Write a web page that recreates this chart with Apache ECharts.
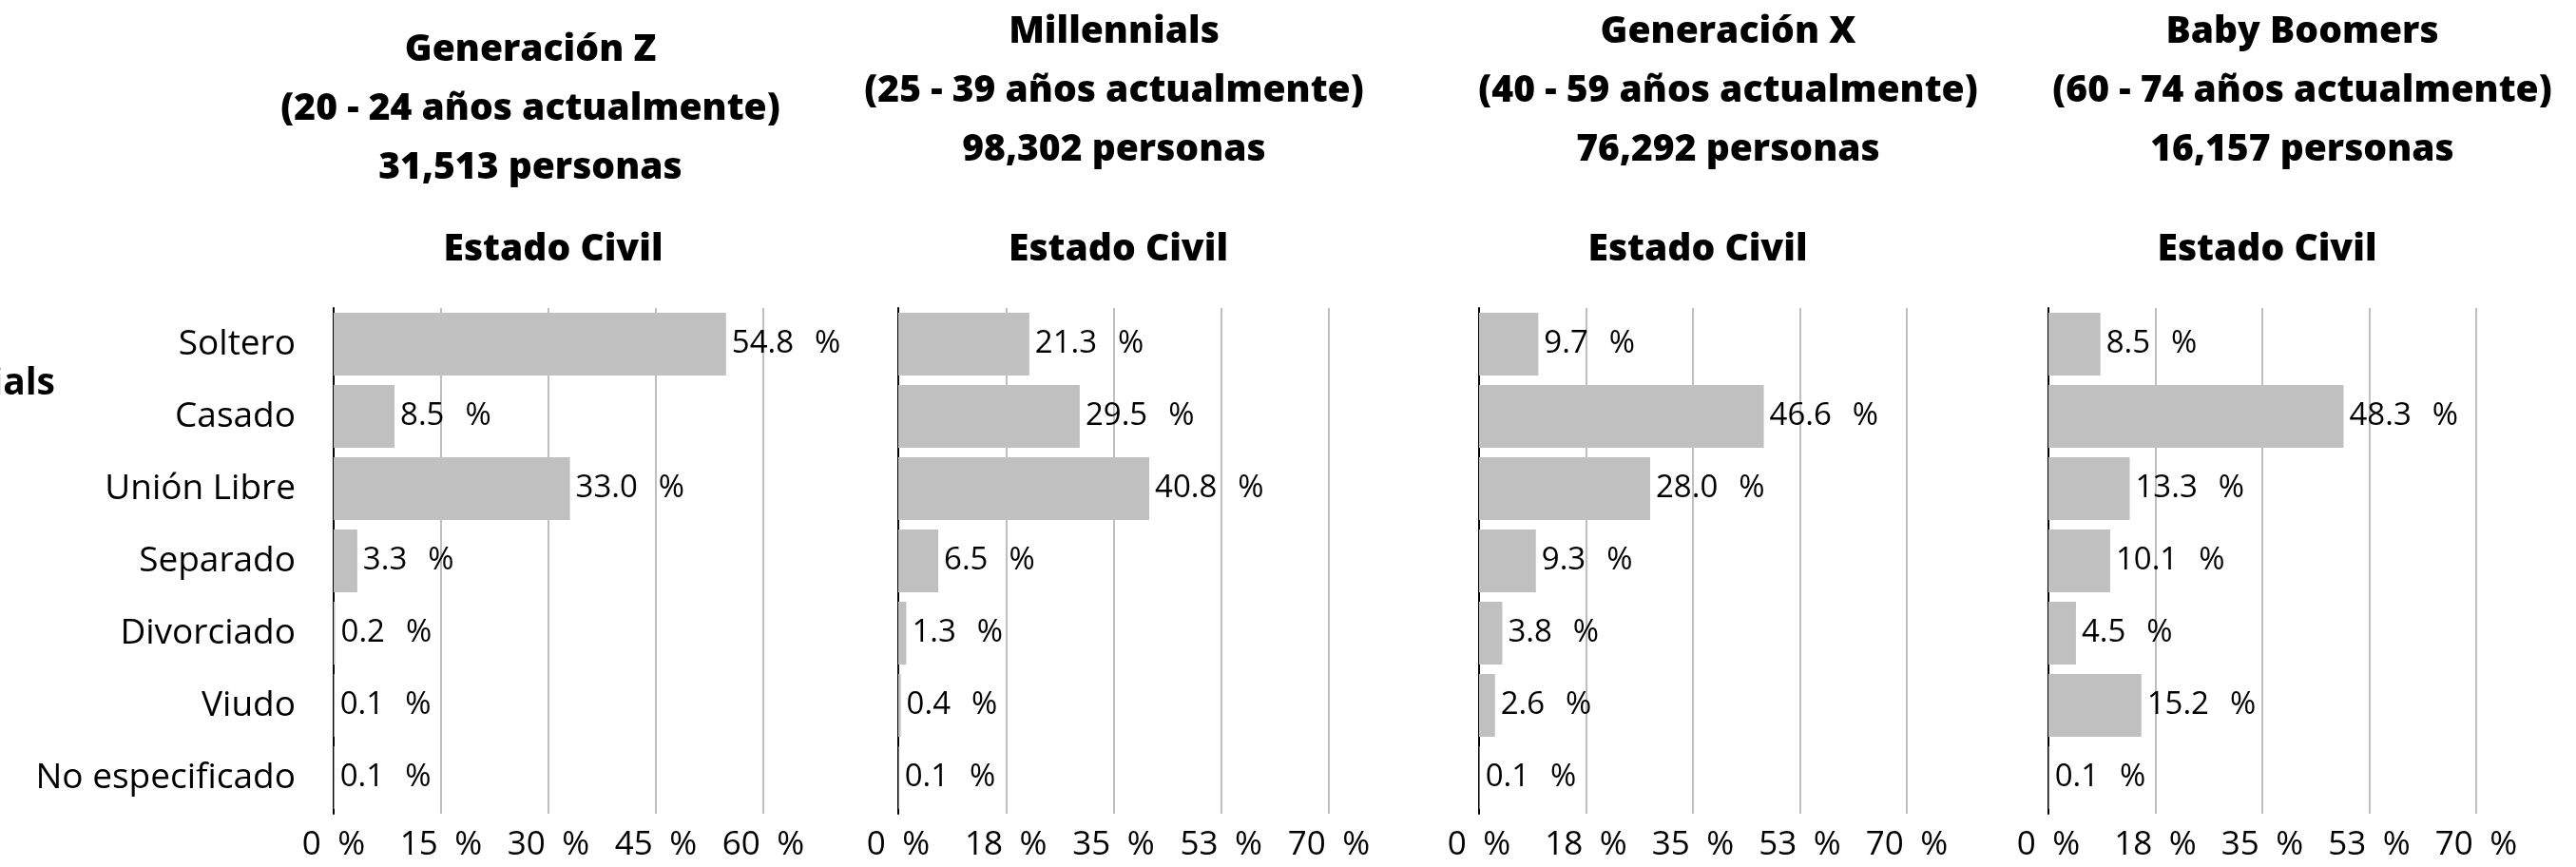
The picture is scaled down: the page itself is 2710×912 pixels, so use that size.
<!DOCTYPE html>
<html>
<head>
<meta charset="utf-8">
<script src="https://cdn.jsdelivr.net/npm/echarts@6/dist/echarts.min.js"></script>
<style>
  html, body { margin: 0; padding: 0; background: #fff; }
  #chart { width: 2710px; height: 912px; }
</style>
</head>
<body>
<div id="chart"></div>
<script>
// categorias de estado civil
const categories = ['Soltero', 'Casado', 'Unión Libre', 'Separado', 'Divorciado', 'Viudo', 'No especificado']

// porcentajes por generacion
const genZ = [54.8, 8.5, 33.0, 3.3, 0.2, 0.1, 0.1]
const millennials = [21.3, 29.5, 40.8, 6.5, 1.3, 0.4, 0.1]
const genX = [9.7, 46.6, 28.0, 9.3, 3.8, 2.6, 0.1]
const boomers = [8.5, 48.3, 13.3, 10.1, 4.5, 15.2, 0.1]

const titles = [
  'Generación Z\n(20 - 24 años actualmente)\n31,513 personas',
  'Millennials\n(25 - 39 años actualmente)\n98,302 personas',
  'Generación X\n(40 - 59 años actualmente)\n76,292 personas',
  'Baby Boomers\n(60 - 74 años actualmente)\n16,157 personas'
]
const subtitle = 'Estado Civil'
const axisMax = [60, 70, 70, 70]
const axisStep = [15, 17.5, 17.5, 17.5]

const panels = [genZ, millennials, genX, boomers]
const gridLeft = [351, 945, 1556, 2155]
const gridWidth = [452, 453, 450, 450]
const titleCenter = [553, 1167, 1813, 2417]
const titleTop = [17, -2, -2, -2]

const font = '"Open Sans", Lato, sans-serif'

const myChart = echarts.init(document.getElementById('chart'))

const option = {
  backgroundColor: '#fff',
  animation: false,
  title: [],
  grid: [],
  xAxis: [],
  yAxis: [],
  series: [],
  graphic: [{
    // leyenda recortada en el borde izquierdo
    type: 'text',
    right: 2710 - 58,
    top: 384,
    style: { text: 'Millennials', font: 'bold 39px ' + font, fill: '#000' }
  }]
}

panels.forEach((vals, i) => {
  const center = gridLeft[i] + gridWidth[i] / 2
  option.title.push({
    text: titles[i],
    left: titleCenter[i],
    top: titleTop[i],
    textAlign: 'center',
    textStyle: { fontFamily: font, fontWeight: 800, fontSize: 39, lineHeight: 62, color: '#000' }
  })
  option.title.push({
    text: subtitle,
    left: center,
    top: 234,
    textAlign: 'center',
    textStyle: { fontFamily: font, fontWeight: 800, fontSize: 39, lineHeight: 48, color: '#000' }
  })
  option.grid.push({ left: gridLeft[i], width: gridWidth[i], top: 324, height: 532 })
  option.xAxis.push({
    type: 'value',
    gridIndex: i,
    min: 0,
    max: axisMax[i],
    interval: axisStep[i],
    axisLine: { show: false },
    axisTick: { show: false },
    splitLine: { show: true, lineStyle: { color: '#bfbfbf', width: 2 } },
    axisLabel: {
      margin: 16,
      fontFamily: font,
      fontSize: 35,
      color: '#000',
      formatter: (v) => Math.round(v) + '\u2002%'
    }
  })
  option.yAxis.push({
    type: 'category',
    gridIndex: i,
    inverse: true,
    data: categories,
    axisLine: { show: true, lineStyle: { color: '#000', width: 2 } },
    axisTick: { show: false },
    axisLabel: {
      show: i === 0,
      margin: 40,
      fontFamily: font,
      fontSize: 37,
      color: '#000'
    }
  })
  option.series.push({
    type: 'bar',
    xAxisIndex: i,
    yAxisIndex: i,
    data: vals,
    barCategoryGap: '13%',
    itemStyle: { color: '#c0c0c0' },
    label: {
      show: true,
      position: 'right',
      distance: 6,
      fontFamily: font,
      fontSize: 33,
      color: '#000',
      formatter: (p) => p.value.toFixed(1) + '\u2002\u2009%'
    }
  })
})

myChart.setOption(option)
</script>
</body>
</html>
